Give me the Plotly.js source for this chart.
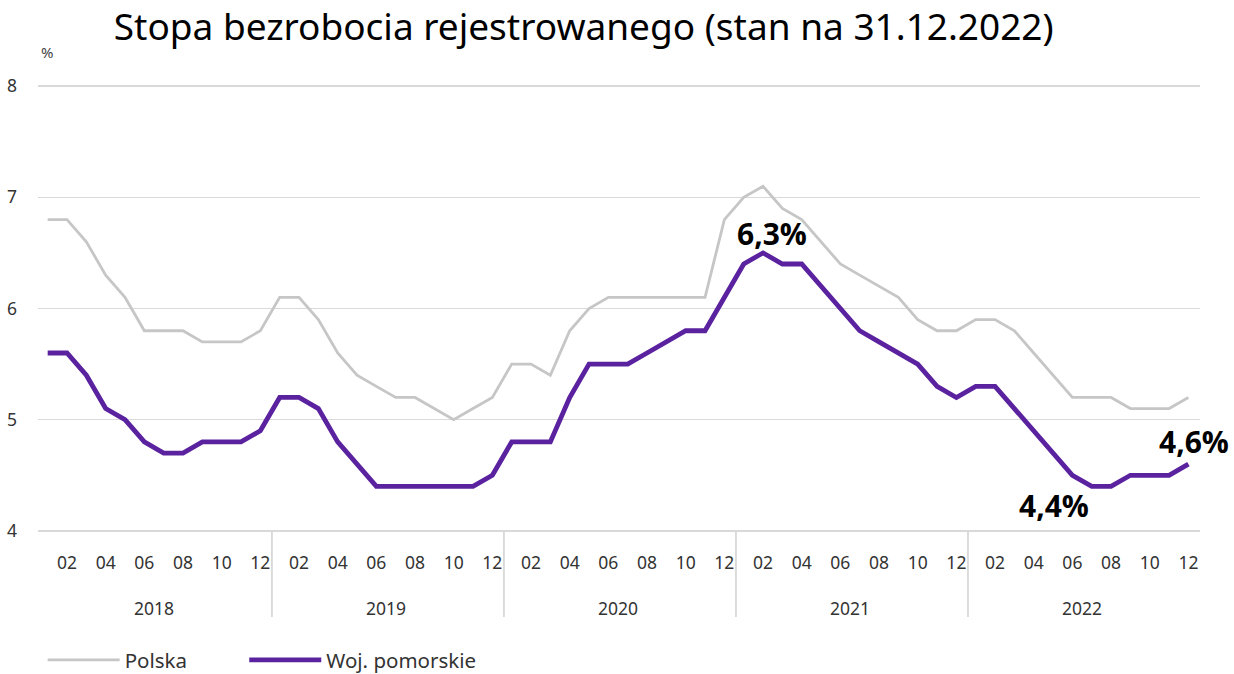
<!DOCTYPE html>
<html>
<head>
<meta charset="utf-8">
<script src="https://cdn.plot.ly/plotly-3.0.1.min.js"></script>
<style>html,body{margin:0;padding:0;background:#fff;}#chart{width:1234px;height:674px;}</style>
</head>
<body>
<div id="chart"></div>
<script>
// Months Jan 2018 .. Dec 2022 (60 points)
const years = ["2018", "2019", "2020", "2021", "2022"];
const monthLabels = ["01","02","03","04","05","06","07","08","09","10","11","12"];

const polska = [
  6.8, 6.8, 6.6, 6.3, 6.1, 5.8, 5.8, 5.8, 5.7, 5.7, 5.7, 5.8,
  6.1, 6.1, 5.9, 5.6, 5.4, 5.3, 5.2, 5.2, 5.1, 5.0, 5.1, 5.2,
  5.5, 5.5, 5.4, 5.8, 6.0, 6.1, 6.1, 6.1, 6.1, 6.1, 6.1, 6.8,
  7.0, 7.1, 6.9, 6.8, 6.6, 6.4, 6.3, 6.2, 6.1, 5.9, 5.8, 5.8,
  5.9, 5.9, 5.8, 5.6, 5.4, 5.2, 5.2, 5.2, 5.1, 5.1, 5.1, 5.2
];
const pomorskie = [
  5.6, 5.6, 5.4, 5.1, 5.0, 4.8, 4.7, 4.7, 4.8, 4.8, 4.8, 4.9,
  5.2, 5.2, 5.1, 4.8, 4.6, 4.4, 4.4, 4.4, 4.4, 4.4, 4.4, 4.5,
  4.8, 4.8, 4.8, 5.2, 5.5, 5.5, 5.5, 5.6, 5.7, 5.8, 5.8, 6.1,
  6.4, 6.5, 6.4, 6.4, 6.2, 6.0, 5.8, 5.7, 5.6, 5.5, 5.3, 5.2,
  5.3, 5.3, 5.1, 4.9, 4.7, 4.5, 4.4, 4.4, 4.5, 4.5, 4.5, 4.6
];
const seriesNames = ["Polska", "Woj. pomorskie"];
const callouts = [
  {idx: 37, text: "6,3%", dx: 9, dy: 19},
  {idx: 54, text: "4,4%", dx: -38, dy: -19},
  {idx: 59, text: "4,6%", dx: 6, dy: 23}
];
const titleText = "Stopa bezrobocia rejestrowanego (stan na 31.12.2022)";

const xIdx = pomorskie.map((_, i) => i);
const tickVals = [], tickText = [];
xIdx.forEach(i => { if ((i % 12) % 2 === 1) { tickVals.push(i); tickText.push(monthLabels[i % 12]); } });

const tickFont = {family: "Noto Sans, sans-serif", size: 17.5, color: "#333"};
const legendFont = {family: "Noto Sans, sans-serif", size: 20.5, color: "#333"};

const traces = [
  {x: xIdx, y: polska, name: seriesNames[0], type: "scatter", mode: "lines",
   line: {color: "#c6c6c6", width: 2.8}, hoverinfo: "skip", legend: "legend"},
  {x: xIdx, y: pomorskie, name: seriesNames[1], type: "scatter", mode: "lines",
   line: {color: "#5b22a0", width: 4.8}, hoverinfo: "skip", legend: "legend2"}
];

const shapes = [];
const annotations = [];
years.forEach((y, k) => {
  annotations.push({x: k * 12 + 5.5, xref: "x", y: -0.17, yref: "paper", text: y,
    showarrow: false, font: tickFont, yanchor: "middle"});
  if (k > 0) {
    shapes.push({type: "line", xref: "x", yref: "paper", x0: k * 12 - 0.4, x1: k * 12 - 0.4,
      y0: 0, y1: -0.19, line: {color: "#d0d0d0", width: 1.5}});
  }
});
callouts.forEach(c => {
  annotations.push({x: c.idx, y: pomorskie[c.idx], xref: "x", yref: "y", text: "<b>" + c.text + "</b>",
    showarrow: false, xshift: c.dx, yshift: c.dy,
    font: {family: "Open Sans, sans-serif", size: 30, color: "#000"}});
});
annotations.push({x: 0, xref: "paper", xanchor: "center", y: 1, yref: "paper", yanchor: "middle", text: "%",
  showarrow: false, font: {family: "Noto Sans, sans-serif", size: 15, color: "#444"}});

const legendBase = {orientation: "h", xanchor: "left", yref: "container", y: 14 / 674, yanchor: "middle",
  font: legendFont, itemwidth: 72, bgcolor: "rgba(0,0,0,0)"};

const layout = {
  width: 1234, height: 674,
  margin: {l: 38, r: 34, t: 85, b: 142, autoexpand: false},
  paper_bgcolor: "#fff", plot_bgcolor: "#fff",
  title: {text: titleText, x: 0.473, xanchor: "center", y: 0.96, yanchor: "middle",
    font: {family: "Noto Sans, sans-serif", size: 37, color: "#000"}},
  xaxis: {range: [-0.5, 59.6], tickmode: "array", tickvals: tickVals, ticktext: tickText,
    showgrid: false, zeroline: false, showline: false, ticks: "", ticklabelstandoff: 18,
    tickfont: tickFont, fixedrange: true},
  yaxis: {range: [3.99, 8.01], tickvals: [4, 5, 6, 7, 8], showgrid: true, gridcolor: "#d9d9d9",
    gridwidth: 1.5, zeroline: false, showline: false, ticks: "", ticklabelstandoff: 20,
    tickfont: tickFont, fixedrange: true},
  legend: Object.assign({}, legendBase, {x: 0.004}),
  legend2: Object.assign({}, legendBase, {x: 0.1775}),
  shapes: shapes,
  annotations: annotations,
  showlegend: true
};
// "%" label positioned in pixels relative to the plot area
const plotH = layout.height - layout.margin.t - layout.margin.b;
const plotW = layout.width - layout.margin.l - layout.margin.r;
annotations[annotations.length - 1].x = (47 - layout.margin.l) / plotW;
annotations[annotations.length - 1].y = (layout.height - layout.margin.b - 52) / plotH;

Plotly.newPlot("chart", traces, layout, {displayModeBar: false, staticPlot: true});
</script>
</body>
</html>
